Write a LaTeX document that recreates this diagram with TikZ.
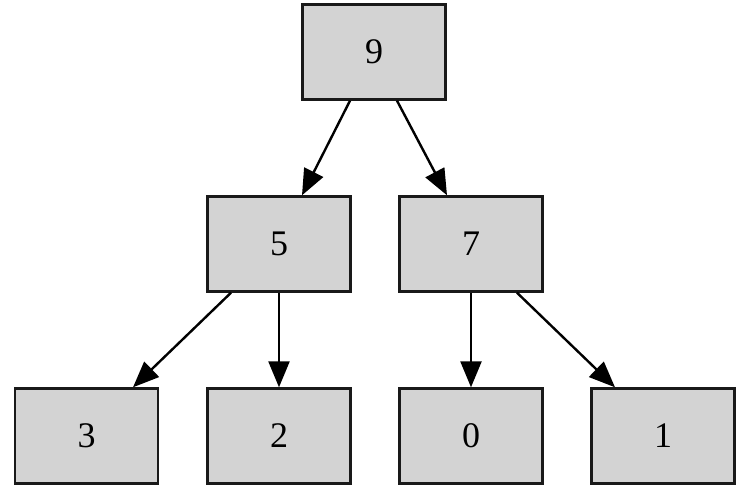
\documentclass[tikz,border=0pt]{standalone}
\usepackage{fontspec}
\setmainfont{Liberation Serif}
\usetikzlibrary{arrows.meta}
\begin{document}
\begin{tikzpicture}[x=1pt,y=-1pt,
  box/.style={draw=black!90,line width=2.4pt,fill={rgb,255:red,211;green,211;blue,211},minimum width=143pt,minimum height=95pt,inner sep=0pt,font=\fontsize{36}{40}\selectfont},
  edge/.style={line width=2.4pt,-{Triangle[length=26pt,width=21pt]}}]
\useasboundingbox (0,0) rectangle (750,490);
\node[box] (n9) at (374,52) {9};
\node[box] (n5) at (279,244) {5};
\node[box] (n7) at (471,244) {7};
\node[box] (n3) at (86.5,436) {3};
\node[box] (n2) at (279,436) {2};
\node[box] (n0) at (471,436) {0};
\node[box] (n1) at (663,436) {1};
\draw[edge] ([xshift=-24pt]n9.south) -- ([xshift=23pt]n5.north);
\draw[edge] ([xshift=23pt]n9.south) -- ([xshift=-24pt]n7.north);
\draw[edge] ([xshift=-48pt]n5.south) -- ([xshift=46.5pt]n3.north);
\draw[edge] (n5.south) -- (n2.north);
\draw[edge] (n7.south) -- (n0.north);
\draw[edge] ([xshift=46pt]n7.south) -- ([xshift=-48pt]n1.north);
\end{tikzpicture}
\end{document}
